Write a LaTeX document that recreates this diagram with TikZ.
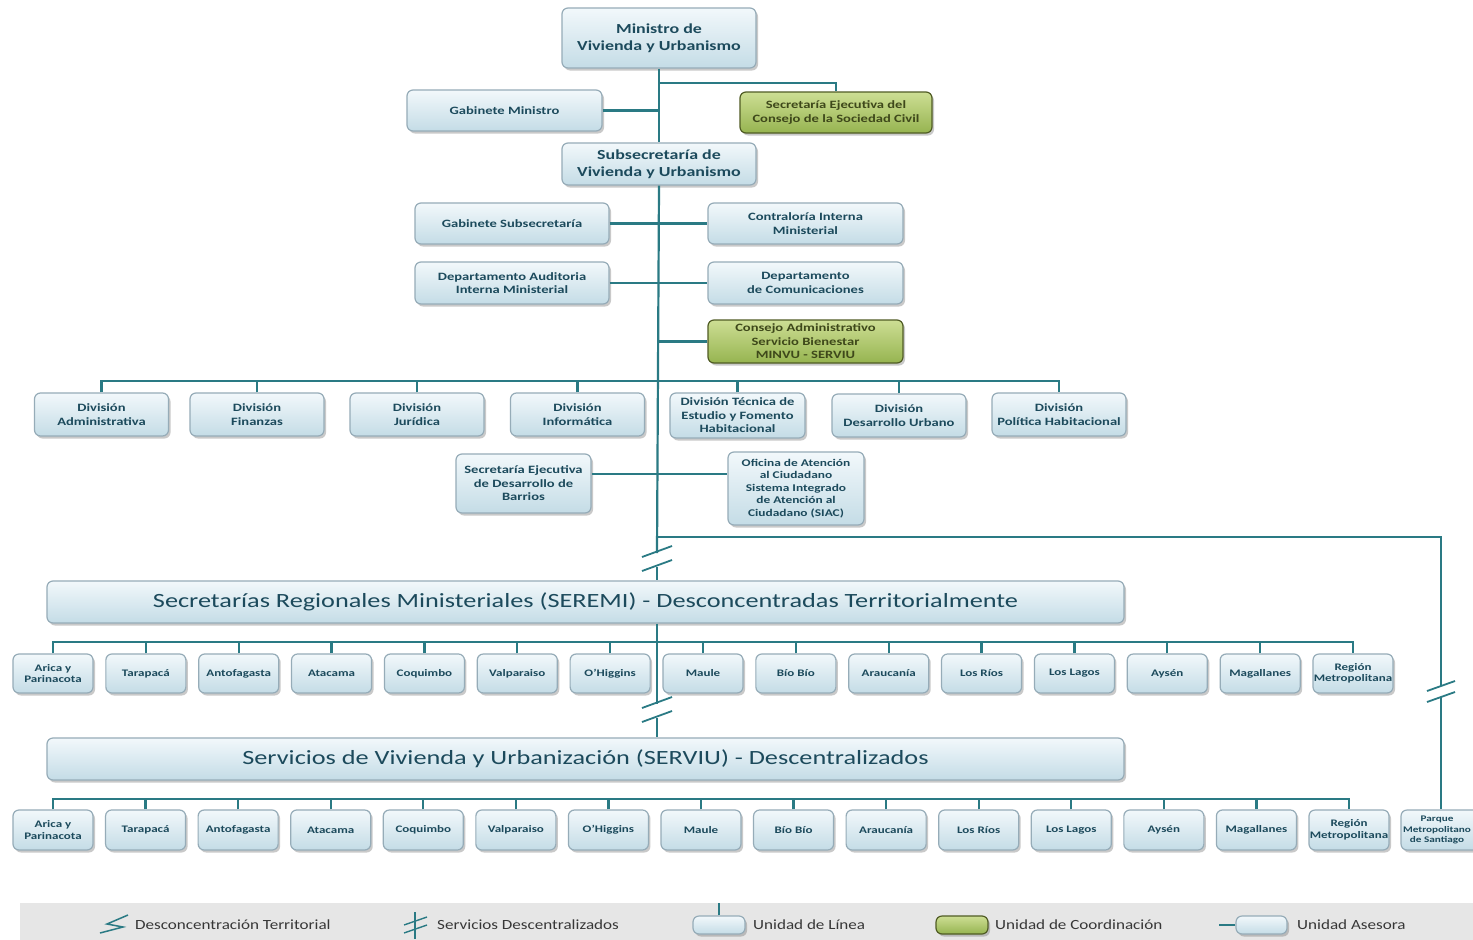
\documentclass[tikz,border=0pt]{standalone}
\usepackage{fontspec}
\setmainfont{Carlito}[FakeStretch=1.3]
\newfontfamily\legfont{Carlito}[FakeStretch=1.22]
\usetikzlibrary{shadows,calc}
\definecolor{lc}{RGB}{42,122,132}
\definecolor{bc}{RGB}{150,172,184}
\definecolor{bt}{RGB}{242,248,251}
\definecolor{bb}{RGB}{196,220,230}
\definecolor{tc}{RGB}{28,74,92}
\definecolor{gt}{RGB}{205,222,148}
\definecolor{gb}{RGB}{150,180,80}
\definecolor{gd}{RGB}{80,92,36}
\definecolor{gtx}{RGB}{62,72,26}
\definecolor{lg}{RGB}{230,230,230}
\definecolor{lt}{RGB}{55,55,55}
\tikzset{
  conn/.style={draw=lc, line width=2.2pt},
  brk/.style={draw=lc, line width=1.8pt},
  ubox/.style={rounded corners=6pt, draw=bc, line width=1.2pt, top color=bt, bottom color=bb,
    text=tc, align=center, inner sep=0pt,
    drop shadow={shadow xshift=2pt, shadow yshift=-2.5pt, opacity=0.35, fill=black!60}},
  gbox/.style={ubox, draw=gd, top color=gt, bottom color=gb, text=gtx},
  big/.style={font=\bfseries\fontsize{13.8}{16.5}\selectfont},
  mid/.style={font=\bfseries\fontsize{11.2}{13.5}\selectfont},
  sm/.style={font=\bfseries\fontsize{10.3}{12.5}\selectfont},
  reg/.style={font=\bfseries\fontsize{10}{11.5}\selectfont, minimum width=80pt},
  bar/.style={font=\fontsize{20.2}{24}\selectfont, minimum width=1077pt, minimum height=42pt},
  legt/.style={font=\legfont\fontsize{14}{16}\selectfont, text=lt, anchor=west, inner sep=0pt},
}
\begin{document}
\begin{tikzpicture}[x=1pt,y=-1pt]
\useasboundingbox (0,0) rectangle (1473,940);
\clip (0,0) rectangle (1473,940);
\fill[white] (0,0) rectangle (1473,940);

% top
\node[ubox,big,minimum width=194pt,minimum height=60pt] (min) at (659,38) {Ministro de\\Vivienda y Urbanismo};
\node[ubox,mid,minimum width=195pt,minimum height=41pt] (gm) at (504.5,110.5) {Gabinete Ministro};
\node[gbox,mid,minimum width=192pt,minimum height=41pt] (sec) at (836,112.5) {Secretaría Ejecutiva del\\Consejo de la Sociedad Civil};
\node[ubox,big,minimum width=194pt,minimum height=42pt] (sub) at (659,164) {Subsecretaría de\\Vivienda y Urbanismo};
\node[ubox,mid,minimum width=194pt,minimum height=41pt] (gs) at (512,223.5) {Gabinete Subsecretaría};
\node[ubox,mid,minimum width=195pt,minimum height=41pt] (ci) at (805.5,223.5) {Contraloría Interna\\Ministerial};
\node[ubox,mid,minimum width=194pt,minimum height=42pt] (da) at (512,283) {Departamento Auditoria\\Interna Ministerial};
\node[ubox,mid,minimum width=195pt,minimum height=42pt] (dc) at (805.5,283) {Departamento\\de Comunicaciones};
\node[gbox,mid,minimum width=195pt,minimum height=43pt] (ca) at (805.5,341.5) {Consejo Administrativo\\Servicio Bienestar\\MINVU - SERVIU};

% divisions
\node[ubox,mid,minimum width=134pt,minimum height=43pt] (d1) at (101.5,414.5) {División\\Administrativa};
\node[ubox,mid,minimum width=134pt,minimum height=43pt] (d2) at (257,414.5) {División\\Finanzas};
\node[ubox,mid,minimum width=134pt,minimum height=43pt] (d3) at (417,414.5) {División\\Jurídica};
\node[ubox,mid,minimum width=134pt,minimum height=43pt] (d4) at (577.5,414.5) {División\\Informática};
\node[ubox,mid,minimum width=135pt,minimum height=45pt] (d5) at (737.5,415.5) {División Técnica de\\Estudio y Fomento\\Habitacional};
\node[ubox,mid,minimum width=134pt,minimum height=43pt] (d6) at (899,415.5) {División\\Desarrollo Urbano};
\node[ubox,mid,minimum width=134pt,minimum height=43pt] (d7) at (1059,414.5) {División\\Política Habitacional};

\node[ubox,mid,minimum width=135pt,minimum height=59pt] (sb) at (523.5,483.5) {Secretaría Ejecutiva\\de Desarrollo de\\Barrios};
\node[ubox,sm,minimum width=136pt,minimum height=73pt] (oa) at (796,488.5) {Oficina de Atención\\al Ciudadano\\Sistema Integrado\\de Atención al\\Ciudadano (SIAC)};

% bars
\node[ubox,bar] (seremi) at (585.5,602) {Secretarías Regionales Ministeriales (SEREMI) - Desconcentradas Territorialmente};
\node[ubox,bar] (serviu) at (585.5,759) {Servicios de Vivienda y Urbanización (SERVIU) - Descentralizados};

\foreach \n [count=\i] in {{Arica y\\Parinacota},Tarapacá,Antofagasta,Atacama,Coquimbo,Valparaiso,O’Higgins,Maule,Bío Bío,Araucanía,Los Ríos,Los Lagos,Aysén,Magallanes,{Región\\Metropolitana}}{
  \node[ubox,reg,minimum height=39pt] (r\i) at ({53+(\i-1)*92.857},673.5) {\n};
  \node[ubox,reg,minimum height=40pt] (s\i) at ({53+(\i-1)*92.571},830) {\n};
}
\node[ubox,reg,minimum height=40pt] (pq) at (1441,830) {};
\node[font=\bfseries\fontsize{8.6}{10.5}\selectfont, text=tc, align=center, inner sep=0pt] (pqt) at (1437,830) {Parque\\Metropolitano\\de Santiago};

% spine coordinates
\coordinate (b1a) at (657,553);
\coordinate (b1b) at (657,567);
\coordinate (b2a) at (657,704);
\coordinate (b2b) at (657,718);
\coordinate (rb) at (657,537);
\coordinate (rc) at (1441,537);
\coordinate (b3a) at (1441,686);
\coordinate (b3b) at (1441,697);

\draw[conn] (min.south) -- (sub.north);
\draw[conn] (sub.south) -- (b1a);
\draw[conn] (b1b) -- (b1b |- seremi.north);
\draw[conn] (b1b |- seremi.south) -- (b2a);
\draw[conn] (b2b) -- (b2b |- serviu.north);

\draw[conn] (gm.east) -- (gm.east -| min.south);
\draw[conn] ($(min.south)+(0,14)$) -| (sec.north);
\draw[conn] (gs.east) -- (ci.west);
\draw[conn] (da.east) -- (dc.west);
\draw[conn] (ca.west) -- (ca.west -| sub.south);

\coordinate (dbar) at (0,381);
\draw[conn] (d1.north) -- (d1.north |- dbar) -- (d7.north |- dbar) -- (d7.north);
\foreach \i in {2,...,6}{\draw[conn] (d\i.north) -- (d\i.north |- dbar);}
\coordinate (sbc) at (0,474);
\draw[conn] (sb.east |- sbc) -- (oa.west |- sbc);

\draw[conn] (rb) -- (rc) -- (b3a);
\draw[conn] (b3b) -- (pq.north);

\coordinate (rbar) at (0,642);
\coordinate (sbar) at (0,799);
\draw[conn] (r1.north) -- (r1.north |- rbar) -- (r15.north |- rbar) -- (r15.north);
\draw[conn] (s1.north) -- (s1.north |- sbar) -- (s15.north |- sbar) -- (s15.north);
\foreach \i in {2,...,14}{
  \draw[conn] (r\i.north) -- (r\i.north |- rbar);
  \draw[conn] (s\i.north) -- (s\i.north |- sbar);
}

% break marks
\draw[brk] ($(b1a)+(-15,4)$) -- ($(b1a)+(15,-7)$);
\draw[brk] ($(b1b)+(-15,4)$) -- ($(b1b)+(15,-7)$);
\draw[brk] ($(b2a)+(-15,4)$) -- ($(b2a)+(15,-7)$);
\draw[brk] ($(b2b)+(-15,4)$) -- ($(b2b)+(15,-7)$);
\draw[brk] ($(b3a)+(-14,5)$) -- ($(b3a)+(14,-5)$);
\draw[brk] ($(b3b)+(-14,5)$) -- ($(b3b)+(14,-5)$);

% legend
\fill[lg] (20,903) rectangle (1473,940);
\draw[brk, line width=1.5pt, line join=miter] (128,915) -- (107,924) -- (123,927) -- (100,933);
\node[legt] (l1) at (135,925) {Desconcentración Territorial};
\coordinate (lv1) at (415,912);
\coordinate (lv2) at (415,939);
\draw[brk, line width=1.4pt] (lv1) -- (lv2);
\draw[brk, line width=1.4pt] (404,925) -- (427,917);
\draw[brk, line width=1.4pt] (404,933) -- (427,925);
\node[legt] (l2) at (437,925) {Servicios Descentralizados};
\node[ubox,minimum width=52pt,minimum height=18pt] (lb1) at (719,925) {};
\draw[brk, line width=1.4pt] (lb1.north) -- ++(0,-12);
\node[legt] (l3) at (753,925) {Unidad de Línea};
\node[gbox,minimum width=52pt,minimum height=18pt] (lb2) at (962,925) {};
\node[legt] (l4) at (995,925) {Unidad de Coordinación};
\node[ubox,minimum width=51pt,minimum height=18pt] (lb3) at (1261.5,925) {};
\draw[brk, line width=1.4pt] (lb3.west) -- ++(-16,0);
\node[legt] (l5) at (1297,925) {Unidad Asesora};
\end{tikzpicture}
\end{document}
